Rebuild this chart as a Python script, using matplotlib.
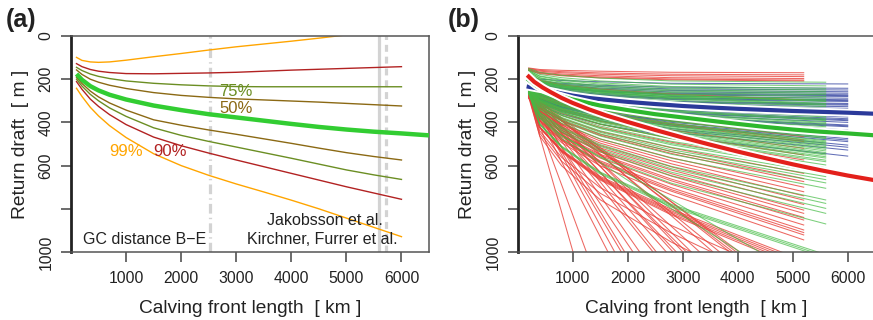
import matplotlib
matplotlib.use("Agg")
import matplotlib.pyplot as plt
import matplotlib.patheffects as pe

plt.rcParams['font.family'] = ['Liberation Sans', 'DejaVu Sans']
plt.rcParams['lines.scale_dashes'] = False

# ---- panel (a): percentile envelopes of return draft vs calving front length
a_x = [100, 200, 350, 500, 700, 1000, 1500, 2000, 2500, 3000, 3500, 4000, 4500, 5000, 5500, 6000]
a_orange_up = [99, 113, 120, 122, 120, 112, 96, 81, 65, 50, 37, 24, 10, -5, -22, -40]
a_red_up = [128, 142, 155, 163, 169, 174, 175, 173, 171, 168, 163, 158, 154, 150, 146, 142]
a_olive_up = [145, 160, 176, 187, 197, 208, 219, 226, 231, 234, 235, 235, 235, 235, 235, 235]
a_brown_up = [157, 178, 200, 214, 228, 243, 262, 275, 284, 291, 296, 301, 306, 312, 318, 324]
a_brown_lo = [191, 220, 255, 282, 310, 343, 388, 413, 435, 455, 476, 497, 519, 540, 558, 574]
a_olive_lo = [200, 232, 270, 300, 333, 372, 425, 460, 488, 514, 540, 566, 593, 620, 643, 664]
a_red_lo = [211, 247, 292, 326, 364, 410, 468, 508, 542, 574, 605, 636, 667, 698, 727, 756]
a_orange_lo = [242, 280, 330, 370, 415, 470, 545, 600, 645, 685, 722, 760, 800, 843, 886, 929]

# central estimate (thick green), same in both panels
mid_x = [100, 200, 350, 500, 700, 1000, 1500, 2000, 2500, 3000, 3500, 4000, 4500, 5000, 5500, 6000, 6500]
mid_green = [176, 203, 232, 252, 272, 294, 322, 343, 362, 377, 392, 407, 421, 433, 443, 451, 460]

gc_distance = 2520
jakobsson = 5600
kirchner = 5720

# ---- panel (b): ensemble members, y at 200, 400, 800, 1500, 2800 km and at line end
b_nodes = [200, 400, 800, 1500, 2800]
red_end, green_end, blue_end = 5200, 5600, 6000

red_lines = [
    [148, 155, 159, 163, 168, 170], [150, 159, 165, 171, 177, 180],
    [152, 163, 170, 177, 184, 188], [155, 168, 176, 184, 193, 197],
    [157, 171, 181, 190, 199, 204], [160, 174, 184, 194, 203, 208],
    [175, 205, 226, 246, 269, 296], [230, 275, 308, 346, 393, 466],
    [235, 282, 316, 356, 405, 481], [240, 287, 322, 362, 412, 489],
    [245, 303, 346, 395, 456, 551], [250, 312, 357, 409, 474, 574],
    [255, 327, 381, 442, 518, 636], [255, 335, 393, 460, 544, 674],
    [260, 348, 412, 486, 578, 721], [262, 353, 420, 496, 592, 740],
    [265, 368, 444, 530, 638, 806], [265, 371, 448, 537, 649, 821],
    [268, 379, 461, 554, 671, 852], [268, 383, 468, 565, 687, 875],
    [270, 389, 477, 578, 703, 898], [270, 394, 485, 589, 719, 921],
    [272, 400, 494, 601, 736, 944], [270, 424, 537, 667, 829, 1080],
    [272, 424, 535, 663, 823, 1070], [274, 423, 533, 659, 816, 1060],
    [275, 422, 531, 655, 810, 1050], [276, 421, 528, 650, 803, 1040],
    [248, 300, 338, 381, 436, 520], [252, 318, 367, 423, 492, 600],
    [258, 334, 391, 455, 535, 660], [262, 345, 407, 477, 564, 700],
    [264, 358, 428, 507, 606, 760], [266, 364, 436, 518, 621, 780],
    [270, 392, 481, 584, 712, 910], [268, 377, 457, 548, 663, 840],
    [272, 439, 562, 702, 878, 1150], [274, 450, 580, 728, 913, 1200],
    [276, 463, 601, 758, 955, 1260],
]
# red members that run straight down to the 1000 m limit: start depth and km where they reach it
steep_red_start = [280, 262, 278, 266, 282, 258, 284, 264, 276, 260, 286, 268,
                   280, 262, 284, 270, 288, 266, 280, 272, 286, 276, 284]
steep_red_hit = [4036, 3976, 3915, 3855, 3673, 3551, 3309, 3158, 3067, 3006, 2885, 2824,
                 2703, 2521, 2461, 2218, 2097, 1945, 1885, 1764, 1642, 1249, 1006]

green_lines = [
    [150, 169, 182, 195, 208, 214], [155, 178, 193, 208, 223, 231],
    [160, 185, 201, 217, 234, 242], [160, 187, 205, 223, 241, 250],
    [165, 193, 212, 230, 249, 258], [165, 195, 215, 235, 255, 265],
    [170, 201, 221, 241, 262, 272], [170, 203, 225, 247, 269, 280],
    [175, 209, 232, 254, 277, 288], [175, 211, 235, 259, 283, 295],
    [180, 211, 232, 253, 276, 303], [180, 213, 235, 258, 283, 312],
    [185, 219, 242, 265, 290, 320], [185, 221, 245, 269, 296, 327],
    [190, 229, 255, 281, 311, 345], [195, 238, 267, 296, 328, 366],
    [195, 240, 271, 301, 335, 375], [200, 246, 277, 308, 343, 383],
    [200, 248, 281, 313, 350, 392], [205, 254, 287, 320, 357, 400],
    [205, 257, 292, 327, 366, 412], [210, 266, 305, 343, 386, 435],
    [215, 260, 293, 331, 378, 451], [215, 261, 295, 334, 383, 458],
    [220, 267, 301, 341, 390, 466], [220, 268, 304, 345, 396, 475],
    [225, 274, 311, 352, 404, 485], [225, 276, 314, 357, 411, 495],
    [230, 282, 321, 365, 420, 505], [230, 284, 323, 368, 425, 512],
    [235, 290, 331, 377, 435, 525], [235, 293, 336, 384, 445, 540],
    [240, 299, 343, 392, 455, 551], [240, 301, 345, 396, 460, 559],
    [240, 305, 353, 408, 476, 582], [245, 312, 361, 417, 488, 597],
    [245, 316, 369, 429, 504, 620], [250, 323, 377, 439, 516, 636],
    [250, 326, 382, 446, 527, 651], [250, 329, 387, 453, 536, 665],
    [255, 336, 395, 463, 548, 680], [255, 341, 404, 476, 566, 705],
    [258, 353, 423, 503, 604, 759], [258, 356, 429, 511, 615, 775],
    [260, 362, 438, 524, 631, 798], [260, 367, 445, 535, 647, 821],
    [262, 378, 463, 560, 682, 870], [262, 405, 510, 630, 780, 1012],
    [264, 408, 513, 634, 786, 1020], [266, 411, 517, 639, 792, 1028],
    [265, 370, 460, 560, 760, 1180], [268, 380, 475, 585, 800, 1250],
    [178, 209, 229, 250, 273, 300], [183, 216, 239, 261, 287, 316],
    [188, 225, 250, 275, 303, 336], [192, 233, 261, 289, 320, 356],
    [198, 241, 270, 299, 332, 370], [202, 249, 280, 312, 347, 388],
    [207, 257, 290, 324, 361, 405], [208, 261, 297, 333, 373, 420],
    [212, 266, 303, 339, 380, 428], [218, 261, 293, 329, 375, 445],
    [218, 264, 299, 338, 386, 462], [222, 269, 304, 344, 393, 470],
    [228, 278, 314, 356, 409, 490], [232, 283, 320, 363, 417, 500],
    [232, 286, 326, 372, 429, 518], [238, 294, 335, 382, 441, 532],
    [238, 297, 340, 389, 451, 546], [242, 303, 349, 400, 465, 565],
    [245, 308, 354, 407, 473, 575], [248, 317, 367, 425, 498, 610],
]

blue_lines = [
    [190, 200, 206, 212, 219, 222], [195, 209, 219, 228, 237, 242],
    [198, 214, 224, 234, 245, 250], [200, 217, 229, 241, 252, 258],
    [202, 221, 234, 246, 259, 265], [205, 225, 239, 252, 265, 272],
    [207, 229, 244, 258, 273, 280], [210, 233, 249, 265, 280, 288],
    [212, 237, 254, 270, 287, 295], [215, 241, 259, 277, 294, 303],
    [218, 246, 265, 284, 303, 312], [220, 250, 270, 290, 310, 320],
    [222, 254, 275, 296, 317, 327], [225, 258, 280, 302, 324, 335],
    [230, 264, 287, 310, 336, 366], [232, 268, 292, 316, 344, 375],
    [235, 272, 297, 322, 350, 383], [238, 277, 303, 329, 358, 392],
    [240, 280, 307, 334, 365, 400], [242, 285, 313, 342, 375, 412],
    [245, 289, 319, 348, 382, 420], [248, 295, 327, 358, 394, 435],
    [250, 290, 319, 352, 394, 458], [252, 293, 323, 357, 400, 466],
    [255, 297, 328, 363, 407, 475], [258, 302, 334, 371, 417, 489],
    [260, 307, 341, 380, 429, 505], [262, 313, 350, 392, 446, 528],
    [265, 320, 361, 408, 466, 556], [208, 228, 242, 256, 269, 276],
    [213, 239, 256, 273, 290, 299], [219, 248, 268, 287, 306, 316],
    [226, 260, 283, 306, 329, 340], [233, 267, 291, 314, 340, 370],
    [237, 275, 300, 326, 355, 388], [244, 287, 316, 345, 378, 416],
    [256, 299, 331, 367, 412, 482], [261, 309, 345, 385, 436, 515],
]

b_x = [200, 300, 450, 600, 800, 1000, 1300, 1600, 2000, 2500, 3000, 3500, 4000, 4500, 5000, 5500, 6000, 6500]
b_blue = [235, 240, 247, 255, 266, 276, 287, 295, 305, 315, 324, 331, 337, 342, 347, 351, 355, 360]
b_red = [188, 212, 238, 260, 287, 310, 340, 367, 398, 435, 470, 503, 535, 565, 594, 621, 646, 668]

x_ticks = [1000, 2000, 3000, 4000, 5000, 6000]
y_ticks = [0, 200, 400, 600, 800, 1000]
y_tick_labels = ['0', '200', '400', '600', '', '1000']

TXT = '#222222'

fig = plt.figure(figsize=(8.73, 3.2), dpi=100)
ax_a = fig.add_axes([71 / 873, 1 - 252 / 320, 358 / 873, 216 / 320])
ax_b = fig.add_axes([517.7 / 873, 1 - 252 / 320, 357.5 / 873, 216 / 320])


def style_axes(ax, right=True):
    ax.set_xlim(0, 6500)
    ax.set_ylim(1000, 0)
    ax.set_xticks(x_ticks)
    ax.set_yticks(y_ticks)
    ax.set_yticklabels(y_tick_labels, rotation=90, va='center')
    ax.tick_params(direction='out', length=7.5, width=1.1, color='#444444',
                   labelsize=11.3, labelcolor=TXT)
    ax.tick_params(axis='x', pad=6)
    ax.tick_params(axis='y', pad=5)
    for s in ['top', 'bottom', 'right']:
        ax.spines[s].set_color('#555555')
        ax.spines[s].set_linewidth(1.1)
    ax.spines['right'].set_visible(right)
    ax.spines['left'].set_color('#222222')
    ax.spines['left'].set_linewidth(2)
    ax.set_xlabel('Calving front length  [ km ]', fontsize=13.8, color=TXT, labelpad=10)
    ax.set_ylabel('Return draft  [ m ]', fontsize=13.8, color=TXT, labelpad=7)


# ---- panel (a)
ax = ax_a
ax.axvline(gc_distance, color='#d3d3d3', lw=2.3, dashes=(7, 3, 1, 3), zorder=1)
ax.axvline(jakobsson, color='#d3d3d3', lw=2.3, zorder=1)
ax.axvline(kirchner, color='#d3d3d3', lw=2.3, dashes=(5, 3.5), zorder=1)

pairs = [
    (a_orange_up, a_orange_lo, '#FFA500'),
    (a_red_up, a_red_lo, '#B22222'),
    (a_olive_up, a_olive_lo, '#6B8E23'),
    (a_brown_up, a_brown_lo, '#8B6914'),
]
for up, lo, c in pairs:
    ax.plot(a_x, up, color=c, lw=1.0, zorder=2)
    ax.plot(a_x, lo, color=c, lw=1.0, zorder=2)
ax.plot(mid_x, mid_green, color='#32CD32', lw=3.2, zorder=3, solid_capstyle='butt')

ax.text(2990, 259, '75%', color='#6B8E23', fontsize=12, ha='center', va='center')
ax.text(2990, 335, '50%', color='#8B6914', fontsize=12, ha='center', va='center')
ax.text(1000, 536, '99%', color='#FFA500', fontsize=12, ha='center', va='center')
ax.text(1790, 536, '90%', color='#B22222', fontsize=12, ha='center', va='center')
ax.text(2450, 944, 'GC distance B\u2212E', color=TXT, fontsize=11.5, ha='right', va='center')
ax.text(5660, 856, 'Jakobsson et al.', color=TXT, fontsize=11.5, ha='right', va='center')
ax.text(5930, 944, 'Kirchner, Furrer et al.', color=TXT, fontsize=11.5, ha='right', va='center')
style_axes(ax)

# ---- panel (b): blue under red under green, thick central curves on top
ax = ax_b
for ys in blue_lines:
    ax.plot(b_nodes + [blue_end], ys, color='#2F3F9F', lw=0.75, alpha=0.75, zorder=2)
for ys in red_lines:
    ax.plot(b_nodes + [red_end], ys, color='#E8413A', lw=0.75, alpha=0.8, zorder=2)
for y0, xe in zip(steep_red_start, steep_red_hit):
    ax.plot([200, xe], [y0, 1000], color='#E8413A', lw=0.75, alpha=0.8, zorder=2)
for ys in green_lines:
    ax.plot(b_nodes + [green_end], ys, color='#44BB44', lw=0.75, alpha=0.7, zorder=2)

halo = [pe.Stroke(linewidth=5.8, foreground='white'), pe.Normal()]
ax.plot(b_x, b_blue, color='#2B3A9A', lw=3.0, zorder=4, path_effects=halo)
ax.plot(mid_x[1:], mid_green[1:], color='#2DB82D', lw=3.0, zorder=4, path_effects=halo)
ax.plot(b_x, b_red, color='#E3201B', lw=3.0, zorder=4, path_effects=halo)
style_axes(ax, right=False)

fig.text(6 / 873, 1 - 20 / 320, '(a)', fontsize=18, fontweight='bold', color=TXT, va='center')
fig.text(448 / 873, 1 - 20 / 320, '(b)', fontsize=18, fontweight='bold', color=TXT, va='center')

fig.savefig('out.png', dpi=100)
